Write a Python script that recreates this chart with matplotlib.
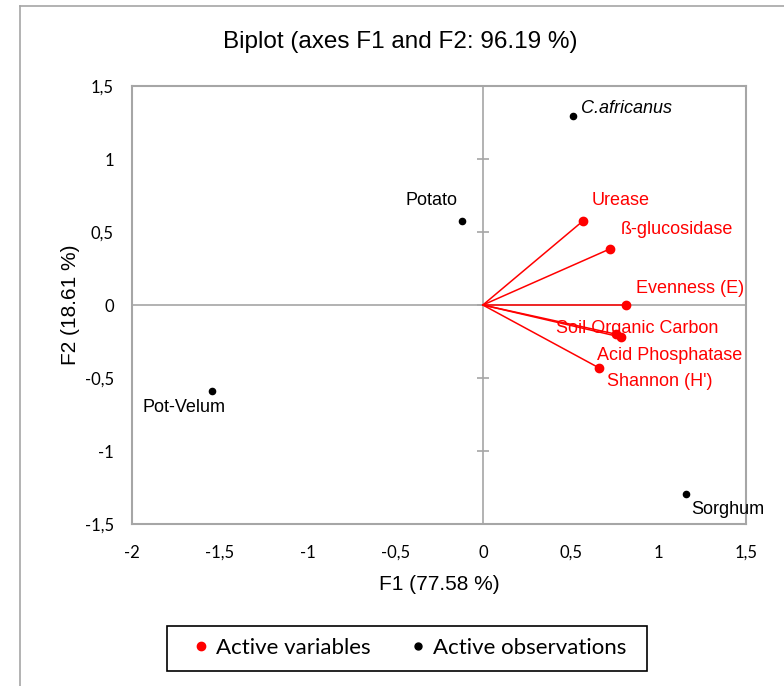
import matplotlib.pyplot as plt
from matplotlib.patches import Rectangle
from matplotlib.lines import Line2D

# PCA loadings (active variables)
var_names = ["Urease", "ß-glucosidase", "Evenness (E)", "Soil Organic Carbon",
             "Acid Phosphatase", "Shannon (H')"]
var_f1 = [0.57, 0.724, 0.815, 0.76, 0.787, 0.661]
var_f2 = [0.575, 0.384, 0.0, -0.20, -0.22, -0.43]

# PCA scores (active observations)
obs_names = ["C.africanus", "Potato", "Pot-Velum", "Sorghum"]
obs_f1 = [0.513, -0.12, -1.545, 1.157]
obs_f2 = [1.295, 0.575, -0.589, -1.295]

xticks = [-2, -1.5, -1, -0.5, 0, 0.5, 1, 1.5]
yticks = [-1.5, -1, -0.5, 0, 0.5, 1, 1.5]

W, H = 784, 686
fig = plt.figure(figsize=(W / 100, H / 100), dpi=100)
ax = fig.add_axes([132 / W, 1 - 524 / H, (746 - 132) / W, (524 - 86) / H])

label_font = ["Liberation Sans", "DejaVu Sans"]
tick_font = ["Lato", "DejaVu Sans"]
grey = "#a6a6a6"

ax.set_xlim(-2, 1.5)
ax.set_ylim(-1.5, 1.5)
for s in ax.spines.values():
    s.set_color(grey)
    s.set_linewidth(1.5)

ax.set_xticks(xticks)
ax.set_yticks(yticks)
ax.set_xticklabels([f"{t:g}".replace(".", ",") for t in xticks], family=tick_font, fontsize=12)
ax.set_yticklabels([f"{t:g}".replace(".", ",") for t in yticks], family=tick_font, fontsize=12)
ax.tick_params(axis="x", length=0, pad=15)
ax.tick_params(axis="y", length=0, pad=13)

# zero lines; tick marks only on the vertical one
ax.axhline(0, color=grey, lw=1.2, zorder=1)
ax.axvline(0, color=grey, lw=1.2, zorder=1)
ax.plot([0] * len(yticks), yticks, ls="none", marker="_", ms=9, color=grey, mew=1.2, zorder=1)

# variable vectors
for x, y in zip(var_f1, var_f2):
    ax.plot([0, x], [0, y], color="red", lw=1.1, zorder=2)
ax.scatter(var_f1, var_f2, s=36, color="red", zorder=3)

var_offsets = [(6, 15), (8, 14), (7, 12), (-43, 4), (-17, -13), (6, -10)]
for name, x, y, (dx, dy) in zip(var_names, var_f1, var_f2, var_offsets):
    ax.annotate(name, (x, y), xytext=(dx, dy), textcoords="offset points",
                color="red", fontsize=13, family=label_font, ha="left", va="center")

ax.scatter(obs_f1, obs_f2, s=20, color="black", zorder=3)
obs_offsets = [(6, 5), (-3, 15), (-50, -12), (4, -11)]
obs_ha = ["left", "right", "left", "left"]
for name, x, y, (dx, dy), ha in zip(obs_names, obs_f1, obs_f2, obs_offsets, obs_ha):
    ax.annotate(name, (x, y), xytext=(dx, dy), textcoords="offset points",
                color="black", fontsize=13, family=label_font, ha=ha, va="center",
                style="italic" if name == "C.africanus" else "normal")

ax.set_xlabel("F1 (77.58 %)", fontsize=15, family=label_font, labelpad=10)
ax.set_ylabel("F2 (18.61 %)", fontsize=15, family=label_font, va="center")
ax.yaxis.set_label_coords(-0.1, 0.5)
fig.text(400 / W, 1 - 42 / H, "Biplot (axes F1 and F2: 96.19 %)", fontsize=17.5,
         family=label_font, ha="center", va="center")

# outer chart frame
fig.add_artist(Line2D([20 / W, 20 / W], [0, 1 - 6 / H], color=grey, lw=1.2))
fig.add_artist(Line2D([20 / W, 1], [1 - 6 / H, 1 - 6 / H], color=grey, lw=1.2))

# legend box
fig.add_artist(Rectangle((167 / W, 1 - 671 / H), 480 / W, 45 / H, fill=False,
                         edgecolor="black", lw=1.2, transform=fig.transFigure))
handles = [Line2D([], [], ls="none", marker="o", ms=6, color="red"),
           Line2D([], [], ls="none", marker="o", ms=5, color="black")]
fig.legend(handles, ["Active variables", "Active observations"], loc="center",
           bbox_to_anchor=(407 / W, 1 - 648 / H), ncol=2, frameon=False,
           prop={"family": tick_font, "size": 16}, handletextpad=0.1,
           handlelength=1.2, columnspacing=1.5)

fig.savefig("out.png", dpi=100)
